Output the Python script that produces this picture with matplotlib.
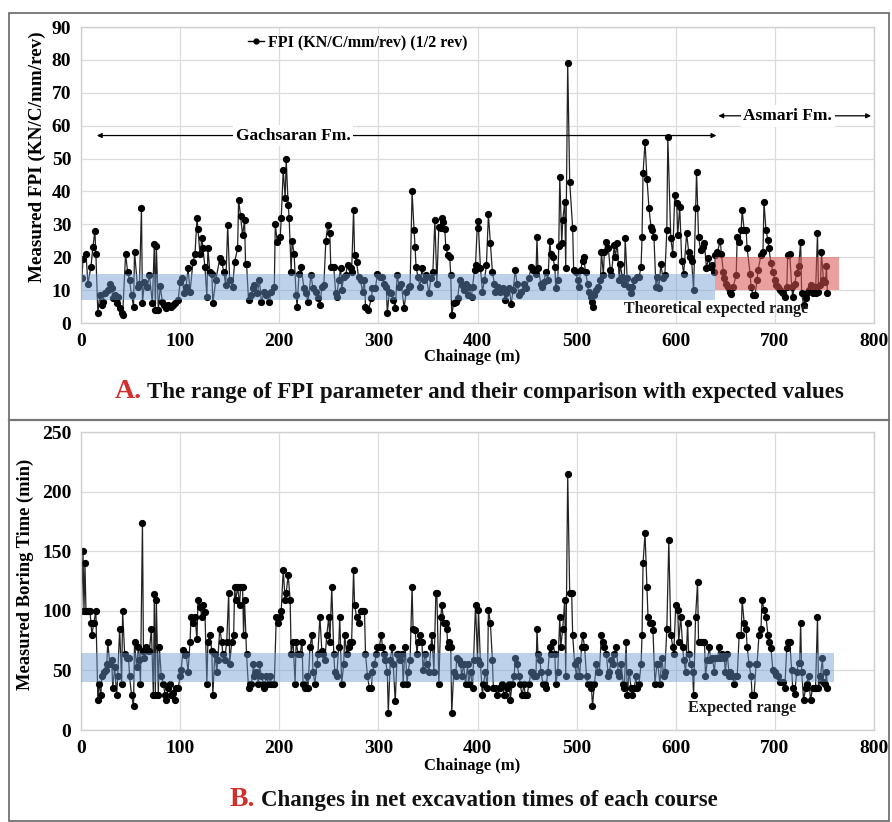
import matplotlib
matplotlib.use('Agg')
import matplotlib.pyplot as plt
from matplotlib.patches import Rectangle
from matplotlib.lines import Line2D

plt.rcParams['font.family'] = ['Liberation Serif', 'DejaVu Serif']
plt.rcParams['font.weight'] = 'bold'

# ---- Panel A: FPI along the tunnel ----
fpi_chainage = [
    1, 2, 5, 7, 10, 12, 14, 15, 17, 19, 21, 22, 24, 27, 29, 31, 32, 34, 36, 37,
    39, 41, 42, 45, 47, 49, 51, 53, 54, 57, 59, 61, 62, 64, 67, 69, 72, 74, 75, 76,
    78, 80, 82, 84, 86, 88, 91, 93, 95, 98, 100, 102, 104, 106, 108, 110, 113, 115, 117, 118,
    120, 122, 123, 125, 127, 128, 130, 132, 133, 136, 140, 142, 144, 146, 148, 150, 153, 155, 158, 159,
    161, 163, 165, 166, 167, 169, 171, 174, 175, 178, 180, 182, 185, 187, 190, 192, 195, 196, 198, 201,
    202, 204, 206, 207, 209, 210, 212, 213, 215, 217, 218, 220, 222, 225, 227, 229, 232, 234, 237, 239,
    241, 243, 245, 247, 249, 251, 252, 255, 257, 258, 260, 262, 263, 265, 267, 269, 272, 273, 275, 276,
    278, 280, 282, 284, 286, 287, 290, 293, 294, 297, 299, 302, 304, 306, 308, 309, 311, 313, 315, 317,
    319, 321, 323, 326, 328, 331, 332, 334, 336, 337, 338, 340, 342, 344, 346, 348, 351, 353, 355, 357,
    359, 361, 363, 364, 365, 367, 368, 370, 372, 373, 374, 376, 378, 380, 382, 384, 386, 388, 390, 391,
    394, 395, 397, 398, 400, 401, 403, 405, 407, 409, 411, 413, 415, 417, 418, 421, 423, 426, 428, 429,
    432, 434, 436, 438, 440, 442, 444, 447, 449, 452, 454, 456, 459, 460, 461, 464, 465, 467, 469, 471,
    473, 474, 476, 478, 479, 481, 482, 483, 485, 486, 488, 489, 491, 493, 496, 497, 499, 501, 502, 504,
    506, 507, 509, 511, 512, 514, 516, 517, 518, 520, 522, 524, 525, 527, 528, 530, 532, 534, 535, 538,
    539, 541, 543, 544, 546, 548, 549, 551, 553, 555, 556, 558, 561, 563, 565, 566, 567, 569, 571, 573,
    575, 576, 578, 580, 581, 583, 585, 587, 589, 591, 592, 595, 597, 599, 601, 602, 604, 606, 608, 611,
    613, 614, 616, 618, 620, 621, 623, 625, 627, 629, 631, 633, 635, 637, 639, 640, 642, 645, 646, 648,
    649, 651, 653, 655, 656, 658, 661, 662, 664, 666, 667, 669, 671, 672, 675, 676, 678, 680, 682, 683,
    686, 688, 689, 691, 693, 694, 696, 698, 700, 701, 703, 705, 707, 708, 710, 712, 713, 715, 717, 718,
    720, 722, 724, 726, 727, 729, 731, 732, 734, 736, 738, 740, 741, 743, 744, 746, 747, 749, 751, 752,
    753,
]
fpi_values = [
    13.6, 19.4, 21, 12, 17, 23, 28, 21, 3, 8.5, 5.5, 6.5, 9, 10, 12, 10.5, 7.5, 8.5, 6, 8,
    4.5, 3, 2.4, 21, 15.6, 13, 8.5, 5, 21.7, 11, 12, 35, 6, 12.5, 11, 14.6, 6, 24, 4, 23.4,
    4, 11.3, 6.5, 5.5, 4.5, 5.5, 5, 5.5, 6, 7, 12.5, 13.6, 9, 11, 16.6, 9.5, 18.6, 21, 31.8, 28.5,
    21, 25.7, 22.7, 17, 8, 22.7, 15.6, 15, 6, 13, 19.7, 18.6, 15.6, 11.5, 29.8, 13, 11, 18.6, 22.7, 37.4,
    32.5, 26.7, 31.3, 18, 18, 7, 8.5, 10.5, 11.5, 9, 13, 6.5, 9.5, 8.5, 6.5, 9.5, 11, 30, 24.7, 26.2,
    31.8, 46.5, 38, 49.8, 36, 31.8, 15.6, 25, 21, 8.5, 5, 15, 17, 10.5, 9, 6.5, 14.6, 10.5, 9.5, 7.5,
    5.5, 11, 11.5, 25, 29.8, 27.3, 17, 17, 9, 8, 13, 16.6, 10, 14, 14.6, 17.6, 16.6, 15.6, 34.3, 20.7,
    18.6, 14, 13, 9.5, 13, 5, 4, 7.5, 10.5, 10.5, 15, 14, 14, 12, 11, 3, 9.5, 9, 7, 4.5,
    14.6, 11, 12, 4.5, 9.5, 11, 11.3, 40, 28.3, 23.2, 17, 14, 11, 16.6, 13, 14.6, 9, 13.6, 15.6, 31.3,
    12, 29.3, 29, 31.8, 30.8, 28.5, 23.2, 20.7, 20, 14.6, 2.4, 6, 6.5, 7.5, 13, 11.5, 10, 12, 8.5, 11,
    8, 11, 16, 17.6, 31, 28.8, 16.6, 9.5, 13, 17.6, 33, 24.2, 15.6, 12, 9.5, 11, 9.5, 10.5, 7, 9,
    10.5, 5.8, 10, 16, 12, 8.5, 9.5, 12, 10.5, 13.6, 17, 16, 15, 26, 16.6, 12, 11, 12.5, 15.6, 13,
    25, 21, 20, 17, 10.5, 13, 23.4, 44.5, 24.2, 31.3, 36.8, 16.6, 79, 43, 28.8, 16, 15.6, 13, 11, 16,
    19, 20, 15.6, 12, 9.5, 8, 6.5, 5, 8.5, 10, 11, 13, 21.7, 14.6, 21.7, 24.7, 22.7, 16, 14.6, 23.7,
    20, 24.2, 13, 18, 14, 12, 25.7, 13.6, 11, 9, 11, 13, 14, 14, 17, 26.2, 45.5, 55, 43.7, 34.9,
    29.3, 28.3, 26.2, 11, 14, 10.5, 18, 13.6, 14.6, 28.3, 56.5, 25.7, 21, 38.9, 36.4, 26.7, 35.4, 19, 15, 27.3,
    21.7, 20, 19, 10, 34.9, 46, 26.2, 22.2, 23.2, 24.2, 16.6, 19.7, 17, 17.6, 15.6, 20.7, 21.7, 25, 21, 15.6,
    13.6, 12, 11, 9.5, 8.8, 11, 14.6, 26.2, 24.7, 28.3, 34.3, 28.3, 28.3, 22.7, 15, 11, 8.5, 8.5, 13, 16,
    20.7, 21.7, 36.9, 28.3, 25.2, 22.7, 18.2, 15.6, 13, 11.5, 11, 10, 9.5, 9, 8, 11, 20.7, 20.9, 11, 8,
    12, 15.2, 17.3, 24.7, 9, 5.5, 7.6, 9, 10, 11.5, 9, 11, 9, 27.3, 9.5, 11.5, 21.7, 13, 12.5, 17.3,
    9,
]

# ---- Panel B: net boring time per course ----
time_chainage = [
    0.5, 2, 3, 4, 5, 7, 9, 10, 11, 13, 15, 17, 18, 20, 21, 23, 25, 26, 27, 29,
    31, 32, 34, 36, 37, 39, 41, 42, 44, 46, 48, 49, 51, 53, 54, 56, 58, 59, 60, 62,
    63, 64, 66, 68, 69, 71, 73, 74, 75, 76, 78, 79, 81, 83, 85, 86, 88, 90, 91, 93,
    95, 96, 98, 100, 101, 103, 105, 106, 108, 110, 111, 113, 115, 117, 118, 120, 122, 123, 125, 127,
    128, 130, 132, 133, 135, 137, 138, 140, 142, 143, 145, 147, 149, 150, 152, 154, 155, 156, 158, 160,
    161, 163, 164, 165, 167, 169, 170, 172, 174, 175, 177, 179, 180, 182, 184, 185, 187, 189, 191, 192,
    194, 195, 197, 199, 201, 202, 204, 206, 207, 209, 211, 212, 214, 216, 217, 219, 221, 223, 224, 226,
    228, 229, 231, 233, 234, 236, 238, 239, 241, 243, 244, 246, 248, 250, 251, 253, 255, 256, 258, 260,
    261, 263, 265, 266, 268, 270, 271, 273, 275, 276, 278, 280, 282, 283, 286, 287, 289, 291, 293, 294,
    296, 298, 299, 301, 303, 304, 306, 307, 309, 310, 312, 314, 315, 317, 319, 320, 322, 324, 325, 327,
    329, 330, 332, 334, 335, 337, 339, 340, 342, 344, 345, 347, 349, 351, 353, 354, 356, 358, 359, 361,
    363, 364, 366, 368, 369, 370, 371, 373, 374, 376, 378, 379, 381, 383, 384, 386, 388, 390, 391, 393,
    395, 396, 398, 400, 401, 403, 405, 406, 408, 410, 411, 413, 415, 416, 418, 420, 422, 423, 425, 427,
    428, 430, 432, 433, 435, 437, 438, 440, 442, 443, 445, 447, 448, 450, 452, 454, 455, 457, 459, 460,
    461, 463, 464, 466, 468, 469, 471, 473, 474, 476, 478, 479, 481, 483, 484, 486, 488, 489, 491, 493,
    495, 496, 498, 500, 501, 503, 505, 506, 508, 510, 511, 513, 515, 516, 518, 520, 522, 523, 525, 527,
    528, 530, 532, 533, 535, 537, 538, 540, 542, 543, 545, 547, 548, 550, 551, 553, 555, 556, 558, 560,
    561, 563, 565, 566, 567, 569, 571, 572, 574, 576, 577, 579, 581, 582, 584, 586, 588, 589, 591, 593,
    595, 597, 598, 600, 602, 603, 605, 607, 608, 610, 612, 613, 615, 617, 618, 620, 622, 623, 625, 627,
    629, 630, 632, 634, 635, 637, 639, 640, 642, 644, 645, 647, 649, 650, 652, 654, 655, 657, 659, 661,
    662, 664, 666, 667, 669, 671, 672, 674, 676, 677, 679, 681, 682, 684, 686, 687, 689, 691, 693, 694,
    696, 698, 700, 701, 703, 705, 707, 708, 710, 712, 713, 715, 717, 718, 720, 722, 724, 725, 726, 727,
    729, 731, 732, 734, 736, 738, 740, 741, 743, 744, 746, 748, 749, 751, 752, 753,
]
time_values = [
    100, 150, 100, 140, 100, 100, 100, 90, 80, 90, 100, 25, 39, 29, 45, 49, 50, 55, 74, 55,
    59, 35, 53, 29, 45, 85, 39, 100, 64, 60, 60, 45, 29, 20, 74, 53, 70, 59, 39, 174,
    66, 60, 70, 66, 66, 85, 29, 114, 29, 109, 29, 70, 45, 39, 29, 25, 35, 39, 29, 31,
    25, 35, 35, 45, 50, 67, 63, 64, 49, 74, 95, 90, 95, 76, 109, 103, 95, 105, 99, 39,
    74, 80, 66, 29, 64, 49, 59, 85, 74, 64, 59, 74, 115, 55, 74, 80, 120, 109, 120, 105,
    120, 120, 80, 109, 64, 35, 39, 39, 55, 45, 49, 39, 55, 45, 39, 35, 45, 39, 45, 39,
    39, 39, 95, 90, 95, 100, 134, 109, 115, 130, 109, 64, 74, 39, 74, 64, 64, 74, 39, 35,
    45, 35, 70, 80, 49, 39, 55, 64, 95, 66, 64, 59, 80, 95, 74, 120, 64, 49, 45, 70,
    95, 39, 55, 80, 64, 70, 74, 74, 134, 105, 95, 90, 100, 100, 100, 64, 45, 35, 35, 49,
    55, 64, 70, 70, 80, 70, 64, 59, 49, 14, 59, 70, 55, 24, 64, 64, 59, 64, 39, 70,
    39, 49, 59, 120, 85, 84, 64, 74, 80, 74, 50, 64, 55, 49, 70, 80, 49, 115, 115, 39,
    95, 105, 90, 90, 85, 70, 74, 70, 14, 49, 45, 60, 59, 55, 45, 55, 39, 55, 39, 49,
    35, 59, 105, 59, 101, 55, 29, 39, 49, 35, 101, 90, 59, 35, 35, 29, 35, 35, 39, 29,
    29, 35, 39, 25, 39, 45, 60, 55, 45, 39, 29, 39, 29, 29, 39, 49, 49, 45, 45, 85,
    64, 59, 49, 39, 39, 35, 49, 70, 64, 74, 64, 39, 49, 95, 70, 85, 109, 45, 215, 115,
    115, 80, 55, 45, 59, 45, 70, 80, 70, 45, 39, 39, 35, 20, 39, 55, 49, 49, 80, 74,
    70, 64, 45, 49, 59, 55, 64, 70, 49, 45, 55, 39, 35, 74, 29, 49, 35, 29, 35, 45,
    35, 39, 55, 80, 140, 165, 120, 95, 90, 90, 84, 39, 55, 55, 39, 60, 45, 49, 85, 159,
    80, 70, 64, 105, 101, 74, 95, 70, 59, 49, 90, 64, 55, 49, 29, 95, 124, 74, 74, 74,
    74, 45, 59, 70, 59, 60, 49, 60, 60, 70, 60, 64, 60, 49, 64, 45, 49, 45, 39, 45,
    45, 80, 80, 109, 90, 85, 70, 55, 45, 29, 29, 55, 55, 80, 85, 109, 101, 95, 80, 74,
    69, 50, 49, 46, 45, 40, 40, 40, 35, 69, 74, 74, 50, 35, 30, 49, 56, 56, 90, 49,
    25, 35, 39, 45, 25, 35, 35, 35, 95, 35, 45, 60, 40, 39, 49, 35,
]

fpi_band = (0, 640, 7, 15)          # x0, x1, y0, y1
asmari_band = (640, 765, 10, 20)
time_band = (0, 760, 40, 65)

W, H = 892, 822
fig = plt.figure(figsize=(W / 100, H / 100), dpi=100)

def fx(px):
    return px / W

def fy(py):
    return 1 - py / H

axA = fig.add_axes([fx(81), fy(323), fx(874) - fx(81), fy(27) - fy(323)])
axB = fig.add_axes([fx(81), fy(730), fx(874) - fx(81), fy(432) - fy(730)])

def style(ax, ymax, ystep):
    ax.set_xlim(0, 800)
    ax.set_ylim(0, ymax)
    ax.set_xticks(range(0, 801, 100))
    ax.set_yticks(range(0, ymax + 1, ystep))
    ax.grid(True, color='#dcdcdc', lw=0.9)
    ax.set_axisbelow(True)
    for s in ax.spines.values():
        s.set_color('#d0d0d0')
        s.set_linewidth(1.0)
    ax.tick_params(length=0, labelsize=14, pad=7)
    for lab in ax.get_xticklabels() + ax.get_yticklabels():
        lab.set_fontweight('bold')

def band(ax, b, color, alpha):
    x0, x1, y0, y1 = b
    ax.fill_between([x0, x1], y0, y1, color=color, alpha=alpha, lw=0, zorder=3)

mark = dict(color='#222222', lw=0.9, marker='o', ms=4.2, mfc='black', mec='black', zorder=2)

# Panel A
axA.plot(fpi_chainage, fpi_values, **mark)
band(axA, fpi_band, '#6f9bd1', 0.45)
band(axA, asmari_band, '#d9534f', 0.55)
style(axA, 90, 10)

legend_line = Line2D([], [], color='black', lw=1.0, marker='o', ms=3.5)
axA.legend([legend_line], ['FPI (KN/C/mm/rev) (1/2 rev)'], loc='center left',
           bbox_to_anchor=(0.192, 0.946), frameon=False, handlelength=1.0,
           handletextpad=0.3, prop={'size': 11.5, 'weight': 'bold'})

arrow = dict(arrowstyle='<|-|>', color='black', lw=0.9, mutation_scale=7, shrinkA=0, shrinkB=0)
axA.annotate('', xy=(16, 57), xytext=(641, 57), arrowprops=arrow, zorder=4)
axA.text(214, 57, 'Gachsaran Fm.', ha='center', va='center', fontsize=12.5, fontweight='bold',
         bbox=dict(facecolor='white', edgecolor='none', pad=2), zorder=5)
axA.annotate('', xy=(643, 63), xytext=(797, 63), arrowprops=arrow, zorder=4)
axA.text(713, 63, 'Asmari Fm.', ha='center', va='center', fontsize=12.5, fontweight='bold',
         bbox=dict(facecolor='white', edgecolor='none', pad=2), zorder=5)
axA.text(641, 4.2, 'Theoretical expected range', ha='center', va='center',
         fontsize=11.5, fontweight='bold', color='#1a1a1a', zorder=6)

# Panel B
axB.plot(time_chainage, time_values, **mark)
band(axB, time_band, '#6f9bd1', 0.45)
style(axB, 250, 50)
axB.text(667, 18.5, 'Expected range', ha='center', va='center',
         fontsize=11.8, fontweight='bold', color='#1a1a1a', zorder=6)

# axis titles
fig.text(fx(37), fy(157), 'Measured FPI (KN/C/mm/rev)', rotation=90, ha='center', va='center',
         fontsize=13.8, fontweight='bold')
fig.text(fx(25), fy(574), 'Measured Boring Time (min)', rotation=90, ha='center', va='center',
         fontsize=13.3, fontweight='bold')
fig.text(fx(472), fy(357), 'Chainage (m)', ha='center', va='center', fontsize=12, fontweight='bold')
fig.text(fx(472), fy(766), 'Chainage (m)', ha='center', va='center', fontsize=12, fontweight='bold')

# panel captions: red letter followed by black text
renderer = fig.canvas.get_renderer()

def caption(x_px, y_px, letter, rest):
    t = fig.text(fx(x_px), fy(y_px), letter, ha='left', va='baseline', fontsize=20,
                 fontweight='bold', color='#d0312d')
    bb = t.get_window_extent(renderer)
    fig.text(bb.x1 / W + fx(5), fy(y_px), rest, ha='left', va='baseline', fontsize=16.5,
             fontweight='bold', color='#111111')

caption(115, 398, 'A.', 'The range of FPI parameter and their comparison with expected values')
caption(230, 806, 'B.', 'Changes in net excavation times of each course')

# outer frame and divider
fig.patches.append(Rectangle((fx(9), fy(821)), fx(889) - fx(9), fy(13) - fy(821),
                             transform=fig.transFigure, fill=False, edgecolor='#666666', lw=1.2))
fig.lines.append(Line2D([fx(9), fx(889)], [fy(420), fy(420)], transform=fig.transFigure,
                        color='#777777', lw=1.6))

fig.savefig('out.png', dpi=100)
